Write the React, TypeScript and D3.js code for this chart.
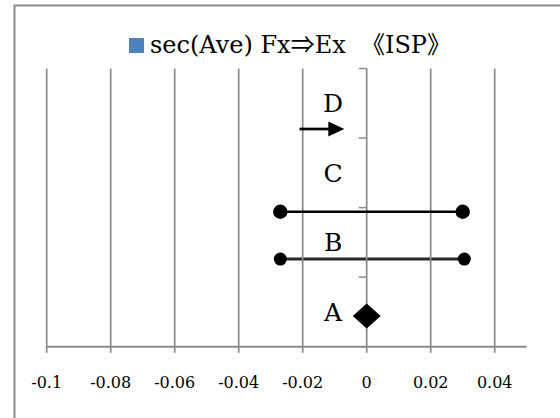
import React from 'react';
import * as d3 from 'd3';

// Horizontal axis ticks
const xTicks = [-0.1, -0.08, -0.06, -0.04, -0.02, 0, 0.02, 0.04];
const xTickLabels = ['-0.1', '-0.08', '-0.06', '-0.04', '-0.02', '0', '0.02', '0.04'];

// Categories, bottom to top
const categories = ['A', 'B', 'C', 'D'];
const labelLevels = [0.5, 1.5, 2.5, 3.5];
const labelX = -0.0105;

// Marks for each category
const pointA = 0;
const pointALevel = 0.44;
const rangeB = [-0.027, 0.0305];
const rangeBLevel = 1.26;
const rangeC = [-0.027, 0.030];
const rangeCLevel = 1.94;
const arrowD = [-0.021, -0.007];
const arrowDLevel = 3.13;

// Legend text pieces: Latin runs and symbol runs
const legendParts = [
  { text: 'sec(Ave) Fx', cjk: false },
  { text: '⇒', cjk: true },
  { text: 'Ex  ', cjk: false },
  { text: '《', cjk: true },
  { text: 'ISP', cjk: false },
  { text: '》', cjk: true },
];

const W = 560;
const H = 418;
const FONT = '"DejaVu Serif", serif';
const CJK = '"Noto Sans CJK JP", "DejaVu Serif", serif';
const GRID = '#8c8c8c';

export default function App() {
  const x = d3.scaleLinear().domain([-0.1, 0.05]).range([46.7, 526.7]);
  const y = d3.scaleLinear().domain([0, 4]).range([346.7, 68.5]);
  const bandTicks = [0, 1, 2, 3, 4];

  const ax = x(pointA);
  const ay = y(pointALevel);
  const diamond = d3.line()([
    [ax - 14, ay],
    [ax, ay - 12.5],
    [ax + 14, ay],
    [ax, ay + 12.5],
  ]) + 'Z';

  return (
    <svg
      width={W}
      height={H}
      style={{ position: 'absolute', left: 0, top: 0, background: '#fff' }}
      fontFamily={FONT}
    >
      <rect x={14.5} y={5.5} width={600} height={500} fill="#fff" stroke={GRID} strokeWidth={2} />

      {/* Legend */}
      <rect x={129} y={38} width={15} height={15} fill="#4f81bd" />
      <text x={150} y={53} fontSize={24} fill="#000">
        {legendParts.map((p, i) => (
          <tspan key={i} fontFamily={p.cjk ? CJK : FONT} style={{ whiteSpace: 'pre' }}>
            {p.text}
          </tspan>
        ))}
      </text>

      {/* Range B sits beneath the grid */}
      <line
        x1={x(rangeB[0])}
        x2={x(rangeB[1])}
        y1={y(rangeBLevel)}
        y2={y(rangeBLevel)}
        stroke="#2a2a2a"
        strokeWidth={3}
      />

      {/* Vertical gridlines with ticks below the axis */}
      {xTicks.map((t) => (
        <line key={t} x1={x(t)} x2={x(t)} y1={y(4)} y2={y(0) + 6} stroke={GRID} strokeWidth={1.75} />
      ))}
      {/* Horizontal axis */}
      <line x1={x(-0.1)} x2={x(0.05)} y1={y(0)} y2={y(0)} stroke={GRID} strokeWidth={2} />
      {/* Category axis ticks on the zero line */}
      {bandTicks.map((b) => (
        <line key={b} x1={x(0) - 8} x2={x(0)} y1={y(b)} y2={y(b)} stroke={GRID} strokeWidth={1.5} />
      ))}

      {xTicks.map((t, i) => (
        <text key={t} x={x(t)} y={388} fontSize={16} textAnchor="middle" fill="#000">
          {xTickLabels[i]}
        </text>
      ))}

      {/* Category labels */}
      {categories.map((c, i) => (
        <text
          key={c}
          x={x(labelX)}
          y={y(labelLevels[i])}
          dy="0.36em"
          fontSize={25}
          textAnchor="middle"
          fill="#000"
        >
          {c}
        </text>
      ))}

      {/* A: point */}
      <path d={diamond} fill="#000" />

      {/* B: end points */}
      {rangeB.map((v) => (
        <circle key={v} cx={x(v)} cy={y(rangeBLevel)} r={6.5} fill="#000" />
      ))}

      {/* C: interval */}
      <line
        x1={x(rangeC[0])}
        x2={x(rangeC[1])}
        y1={y(rangeCLevel)}
        y2={y(rangeCLevel)}
        stroke="#000"
        strokeWidth={2.5}
      />
      {rangeC.map((v) => (
        <circle key={v} cx={x(v)} cy={y(rangeCLevel)} r={7.2} fill="#000" />
      ))}

      {/* D: arrow */}
      <line
        x1={x(arrowD[0])}
        x2={x(arrowD[1]) - 14}
        y1={y(arrowDLevel)}
        y2={y(arrowDLevel)}
        stroke="#000"
        strokeWidth={2.7}
      />
      <path
        d={`M${x(arrowD[1])},${y(arrowDLevel)} L${x(arrowD[1]) - 16},${y(arrowDLevel) - 7.5} L${x(arrowD[1]) - 16},${y(arrowDLevel) + 7.5} Z`}
        fill="#000"
      />
    </svg>
  );
}
